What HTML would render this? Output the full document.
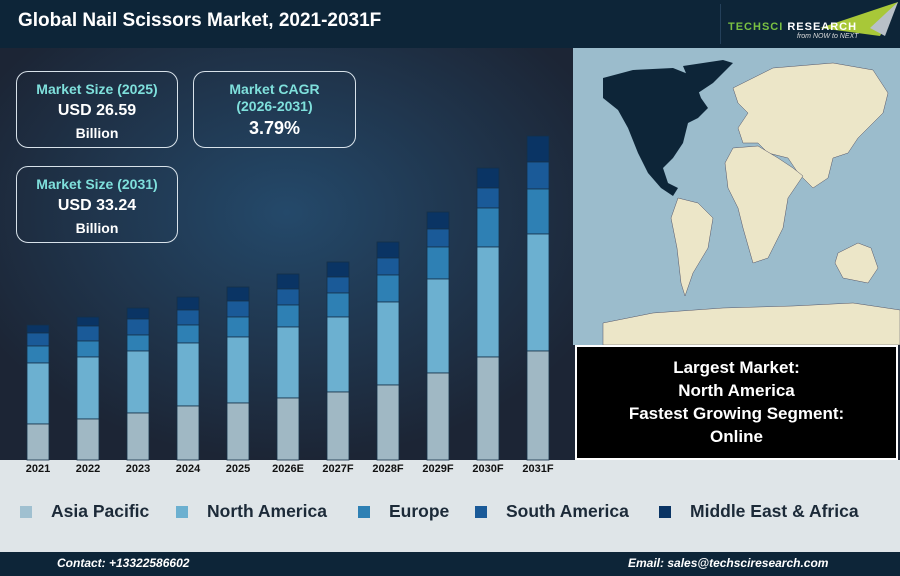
<!DOCTYPE html>
<html><head><style>
body{margin:0;width:900px;height:576px;overflow:hidden;font-family:"Liberation Sans",sans-serif;background:#1c2535;position:relative}
.abs{position:absolute}
.card{position:absolute;border:1.5px solid #d8e2ea;border-radius:12px;text-align:center;color:#fff;font-weight:bold;font-size:14px;line-height:22px;box-sizing:border-box;padding-top:6px}
.card .h{color:#7fe0dc}
.card .v{font-size:16px}
.leg{position:absolute;top:501px;font-size:17.5px;font-weight:bold;color:#1c2a38}
.leg i{display:inline-block;width:12px;height:12px;margin-right:19px;vertical-align:-1px}
</style></head><body>
<div class="abs" style="left:0;top:0;width:900px;height:48px;background:#0d2538"></div>
<div class="abs" style="left:18px;top:10px;color:#fff;font-size:19px;font-weight:bold">Global Nail Scissors Market, 2021-2031F</div>
<div class="abs" style="left:720px;top:4px;width:1px;height:40px;background:#24405a"></div>
<svg class="abs" style="left:800px;top:2px" width="100" height="36"><polygon points="20,26 98,0 80,34" fill="#a8c838"/><polygon points="70,26 98,0 85,34" fill="#b8c0c8"/></svg>
<div class="abs" style="left:728px;top:21px;font-size:11px;font-weight:bold;letter-spacing:1px"><span style="color:#7ac142">TECHSCI</span> <span style="color:#fff">RESEARCH</span></div>
<div class="abs" style="left:797px;top:33px;font-size:7px;font-style:italic;color:#ddd">from NOW to NEXT</div>
<svg class="abs" style="left:0;top:48px" width="573" height="412"><defs><radialGradient id="g" cx="0.5" cy="0.4" r="0.6"><stop offset="0" stop-color="#24496a"/><stop offset="1" stop-color="#1c2535"/></radialGradient></defs><rect width="573" height="412" fill="url(#g)"/></svg>
<div class="card" style="left:16px;top:71px;width:162px;height:77px"><div class="h">Market Size (2025)</div><div class="v">USD 26.59</div><div>Billion</div></div>
<div class="card" style="left:193px;top:71px;width:163px;height:77px"><div class="h" style="line-height:17px;padding-top:3px">Market CAGR<br>(2026-2031)</div><div class="v" style="font-size:18px;line-height:26px">3.79%</div></div>
<div class="card" style="left:16px;top:166px;width:162px;height:77px"><div class="h">Market Size (2031)</div><div class="v">USD 33.24</div><div>Billion</div></div>
<svg class="abs" style="left:0;top:0" width="572" height="476" font-family="Liberation Sans">
<rect x="0" y="460" width="572" height="16" fill="#dfe5e8"/>
<g stroke="#163048" stroke-width="0.8">
<g transform="translate(27,0)"><rect y="325" height="8" width="22" fill="#0a3464"/><rect y="333" height="13" width="22" fill="#1a5a98"/><rect y="346" height="17" width="22" fill="#2e80b4"/><rect y="363" height="61" width="22" fill="#6cb0d0"/><rect y="424" height="36" width="22" fill="#a0b8c4"/></g>
<g transform="translate(77,0)"><rect y="317" height="9" width="22" fill="#0a3464"/><rect y="326" height="15" width="22" fill="#1a5a98"/><rect y="341" height="16" width="22" fill="#2e80b4"/><rect y="357" height="62" width="22" fill="#6cb0d0"/><rect y="419" height="41" width="22" fill="#a0b8c4"/></g>
<g transform="translate(127,0)"><rect y="308" height="11" width="22" fill="#0a3464"/><rect y="319" height="16" width="22" fill="#1a5a98"/><rect y="335" height="16" width="22" fill="#2e80b4"/><rect y="351" height="62" width="22" fill="#6cb0d0"/><rect y="413" height="47" width="22" fill="#a0b8c4"/></g>
<g transform="translate(177,0)"><rect y="297" height="13" width="22" fill="#0a3464"/><rect y="310" height="15" width="22" fill="#1a5a98"/><rect y="325" height="18" width="22" fill="#2e80b4"/><rect y="343" height="63" width="22" fill="#6cb0d0"/><rect y="406" height="54" width="22" fill="#a0b8c4"/></g>
<g transform="translate(227,0)"><rect y="287" height="14" width="22" fill="#0a3464"/><rect y="301" height="16" width="22" fill="#1a5a98"/><rect y="317" height="20" width="22" fill="#2e80b4"/><rect y="337" height="66" width="22" fill="#6cb0d0"/><rect y="403" height="57" width="22" fill="#a0b8c4"/></g>
<g transform="translate(277,0)"><rect y="274" height="15" width="22" fill="#0a3464"/><rect y="289" height="16" width="22" fill="#1a5a98"/><rect y="305" height="22" width="22" fill="#2e80b4"/><rect y="327" height="71" width="22" fill="#6cb0d0"/><rect y="398" height="62" width="22" fill="#a0b8c4"/></g>
<g transform="translate(327,0)"><rect y="262" height="15" width="22" fill="#0a3464"/><rect y="277" height="16" width="22" fill="#1a5a98"/><rect y="293" height="24" width="22" fill="#2e80b4"/><rect y="317" height="75" width="22" fill="#6cb0d0"/><rect y="392" height="68" width="22" fill="#a0b8c4"/></g>
<g transform="translate(377,0)"><rect y="242" height="16" width="22" fill="#0a3464"/><rect y="258" height="17" width="22" fill="#1a5a98"/><rect y="275" height="27" width="22" fill="#2e80b4"/><rect y="302" height="83" width="22" fill="#6cb0d0"/><rect y="385" height="75" width="22" fill="#a0b8c4"/></g>
<g transform="translate(427,0)"><rect y="212" height="17" width="22" fill="#0a3464"/><rect y="229" height="18" width="22" fill="#1a5a98"/><rect y="247" height="32" width="22" fill="#2e80b4"/><rect y="279" height="94" width="22" fill="#6cb0d0"/><rect y="373" height="87" width="22" fill="#a0b8c4"/></g>
<g transform="translate(477,0)"><rect y="168" height="20" width="22" fill="#0a3464"/><rect y="188" height="20" width="22" fill="#1a5a98"/><rect y="208" height="39" width="22" fill="#2e80b4"/><rect y="247" height="110" width="22" fill="#6cb0d0"/><rect y="357" height="103" width="22" fill="#a0b8c4"/></g>
<g transform="translate(527,0)"><rect y="136" height="26" width="22" fill="#0a3464"/><rect y="162" height="27" width="22" fill="#1a5a98"/><rect y="189" height="45" width="22" fill="#2e80b4"/><rect y="234" height="117" width="22" fill="#6cb0d0"/><rect y="351" height="109" width="22" fill="#a0b8c4"/></g>
</g>
<g font-size="11" font-weight="bold" fill="#111" text-anchor="middle">
<text x="38" y="472">2021</text><text x="88" y="472">2022</text><text x="138" y="472">2023</text><text x="188" y="472">2024</text><text x="238" y="472">2025</text><text x="288" y="472">2026E</text><text x="338" y="472">2027F</text><text x="388" y="472">2028F</text><text x="438" y="472">2029F</text><text x="488" y="472">2030F</text><text x="538" y="472">2031F</text>
</g>
</svg>
<svg class="abs" style="left:573px;top:48px" width="327" height="297">
<rect width="327" height="297" fill="#9bbccc"/>
<g fill="#ece6c8" stroke="#556" stroke-width="0.5">
<path d="M160,40 L200,20 L260,15 L300,22 L315,45 L310,65 L300,75 L285,90 L275,105 L260,110 L255,130 L240,140 L225,125 L215,110 L195,105 L185,95 L170,95 L165,80 L175,65 L165,55 Z"/>
<path d="M160,100 L185,98 L205,110 L220,120 L230,128 L215,150 L210,180 L195,210 L180,215 L170,180 L165,160 L155,140 L152,115 Z"/>
<path d="M105,150 L125,155 L140,170 L135,200 L120,225 L112,248 L108,235 L104,200 L98,170 Z"/>
<path d="M265,205 L285,195 L298,200 L305,220 L295,235 L270,230 L262,215 Z"/>
<path d="M30,275 L80,265 L150,260 L220,258 L280,255 L327,262 L327,297 L30,297 Z"/>
</g>
<path d="M30,30 L60,22 L100,20 L120,28 L128,50 L135,60 L125,70 L115,75 L110,95 L100,110 L90,120 L95,135 L105,140 L100,148 L88,140 L75,125 L65,105 L55,80 L45,62 L30,50 Z" fill="#0d2538"/>
<path d="M110,18 L150,12 L160,15 L140,35 L125,45 L115,30 Z" fill="#0d2538"/>
</svg>
<div class="abs" style="left:575px;top:345px;width:323px;height:115px;background:#000;border:2px solid #fff;box-sizing:border-box;color:#fff;text-align:center;font-weight:bold;font-size:17px;line-height:23px;padding-top:9px">Largest Market:<br>North America<br>Fastest Growing Segment:<br>Online</div>
<div class="abs" style="left:0;top:476px;width:900px;height:76px;background:#dfe5e8"></div>
<div class="abs" style="left:572px;top:460px;width:328px;height:16px;background:#dfe5e8"></div>
<div class="leg" style="left:20px"><i style="background:#a0c0d0"></i>Asia Pacific</div>
<div class="leg" style="left:176px"><i style="background:#6cb0d0"></i>North America</div>
<div class="leg" style="left:358px"><i style="background:#2e80b4"></i>Europe</div>
<div class="leg" style="left:475px"><i style="background:#1a5a98"></i>South America</div>
<div class="leg" style="left:659px"><i style="background:#0a3464"></i>Middle East &amp; Africa</div>
<div class="abs" style="left:0;top:552px;width:900px;height:24px;background:#0d2538"></div>
<div class="abs" style="left:57px;top:556px;color:#fff;font-size:12px;font-weight:bold;font-style:italic">Contact: +13322586602</div>
<div class="abs" style="left:628px;top:556px;color:#fff;font-size:12px;font-weight:bold;font-style:italic">Email: sales@techsciresearch.com</div>
</body></html>
